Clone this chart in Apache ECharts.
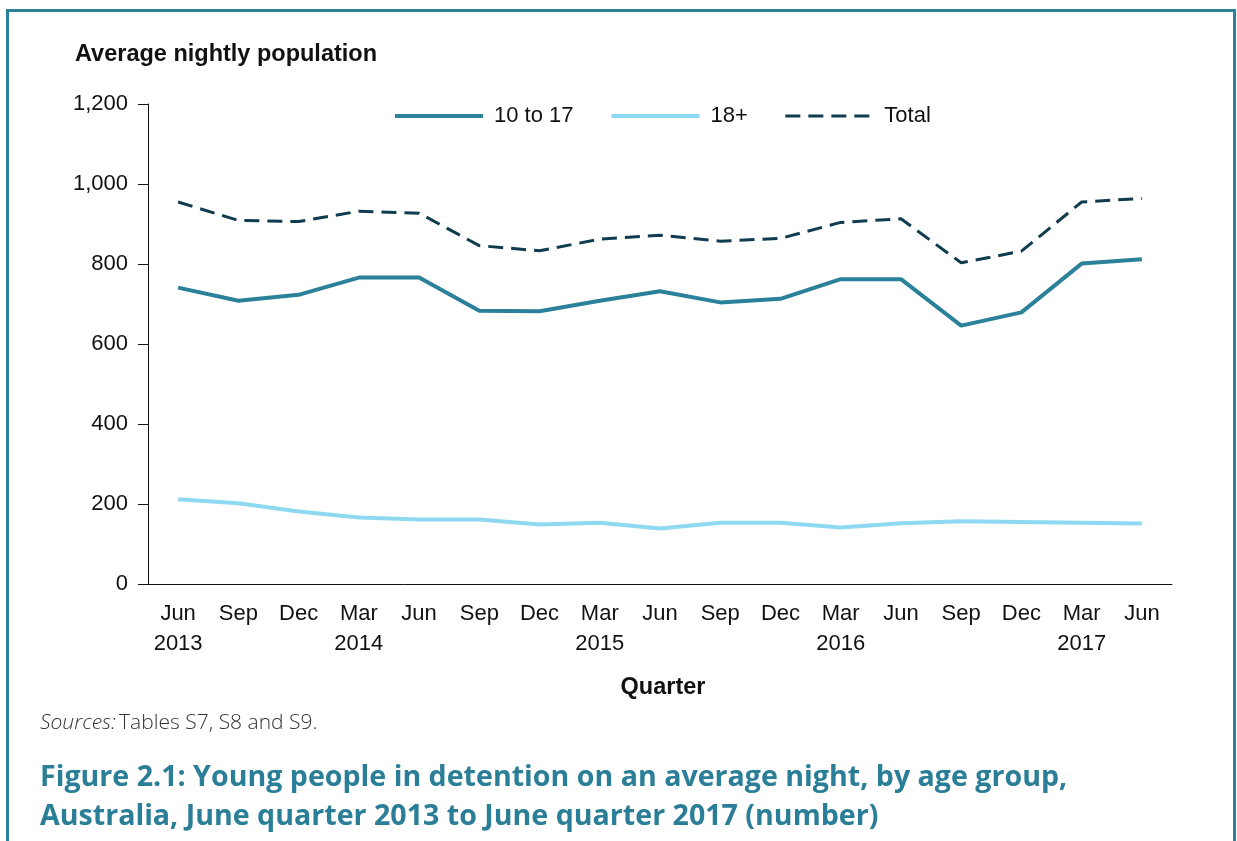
<!DOCTYPE html>
<html>
<head>
<meta charset="utf-8">
<script src="https://cdn.jsdelivr.net/npm/echarts@6/dist/echarts.min.js"></script>
<style>
html,body{margin:0;padding:0;background:#fff;}
#chart{width:1237px;height:841px;}
</style>
</head>
<body>
<div id="chart"></div>
<script>
const quarters = ["Jun\n2013","Sep","Dec","Mar\n2014","Jun","Sep","Dec","Mar\n2015","Jun","Sep","Dec","Mar\n2016","Jun","Sep","Dec","Mar\n2017","Jun"];
const age10to17 = [741,708,723,766,766,683,682,708,732,704,713,762,762,646,679,801,812];
const age18plus = [212,202,181,166,161,161,149,153,139,153,153,141,152,157,155,153,151];
const total = [955,909,906,932,927,846,833,862,872,857,864,904,913,803,832,955,964];
const yTicks = [0,200,400,600,800,1000,1200];

const chart = echarts.init(document.getElementById('chart'), null, {renderer:'canvas'});
const axisFont = 'Liberation Sans, Arial, sans-serif';
const option = {
  animation:false,
  backgroundColor:'#fff',
  grid:{left:148, top:104, width:1024, height:480, containLabel:false},
  legend:{
    left:393, top:105, padding:0, itemWidth:88, itemHeight:22, itemGap:36,
    itemStyle:{opacity:0},
    textStyle:{fontFamily:axisFont, fontSize:22, color:'#111', padding:[0,0,0,6]},
    data:[
      {name:'10 to 17', lineStyle:{width:4}},
      {name:'18+', lineStyle:{width:4}},
      {name:'Total', lineStyle:{width:3}}
    ]
  },
  xAxis:{
    type:'category', data:quarters, boundaryGap:true,
    axisLine:{lineStyle:{color:'#111', width:1}},
    axisTick:{alignWithLabel:true, length:8, lineStyle:{color:'#111'}},
    axisLabel:{fontFamily:axisFont, fontSize:22, color:'#111', lineHeight:30, margin:15, interval:0}
  },
  yAxis:{
    type:'value', min:0, max:1200, interval:200,
    axisLine:{show:true, lineStyle:{color:'#111', width:1}},
    axisTick:{show:true, length:10, lineStyle:{color:'#111'}},
    splitLine:{show:false},
    axisLabel:{fontFamily:axisFont, fontSize:22, color:'#111', margin:20,
      formatter:function(v){return yTicks.indexOf(v)>=0 ? v.toLocaleString('en-US') : '';}}
  },
  series:[
    {name:'10 to 17', type:'line', data:age10to17, symbol:'none', lineStyle:{color:'#2a8199', width:4}, itemStyle:{color:'#2a8199'}},
    {name:'18+', type:'line', data:age18plus, symbol:'none', lineStyle:{color:'#8fd8f1', width:4}, itemStyle:{color:'#8fd8f1'}},
    {name:'Total', type:'line', data:total, symbol:'none', lineStyle:{color:'#0f3c4e', width:3, type:[15,8]}, itemStyle:{color:'#0f3c4e'}}
  ],
  graphic:[
    {type:'rect', shape:{x:7.5, y:10.5, width:1227, height:900}, style:{fill:'none', stroke:'#2b8199', lineWidth:3}, silent:true},
    {type:'text', x:75, y:55, style:{text:'Average nightly population', font:'bold 23.5px "Liberation Sans", Arial, sans-serif', fill:'#111', textVerticalAlign:'middle'}},
    {type:'text', x:663, y:688, style:{text:'Quarter', font:'bold 23.5px "Liberation Sans", Arial, sans-serif', fill:'#111', textAlign:'center', textVerticalAlign:'middle'}},
    {type:'text', x:40, y:723, style:{
      text:'{i|Sources:} {n|Tables S7, S8 and S9.}', textVerticalAlign:'middle',
      rich:{
        i:{fontFamily:'Open Sans', fontStyle:'italic', fontSize:21, fill:'#333', fontWeight:300},
        n:{fontFamily:'Open Sans', fontSize:21, fill:'#333', fontWeight:300}
      }}},
    {type:'text', x:40, y:758, style:{
      text:'Figure 2.1: Young people in detention on an average night, by age group,\nAustralia, June quarter 2013 to June quarter 2017 (number)',
      font:'bold 28.6px "Open Sans", sans-serif', fill:'#2a7e97', lineHeight:39}}
  ]
};
chart.setOption(option);
</script>
</body>
</html>
